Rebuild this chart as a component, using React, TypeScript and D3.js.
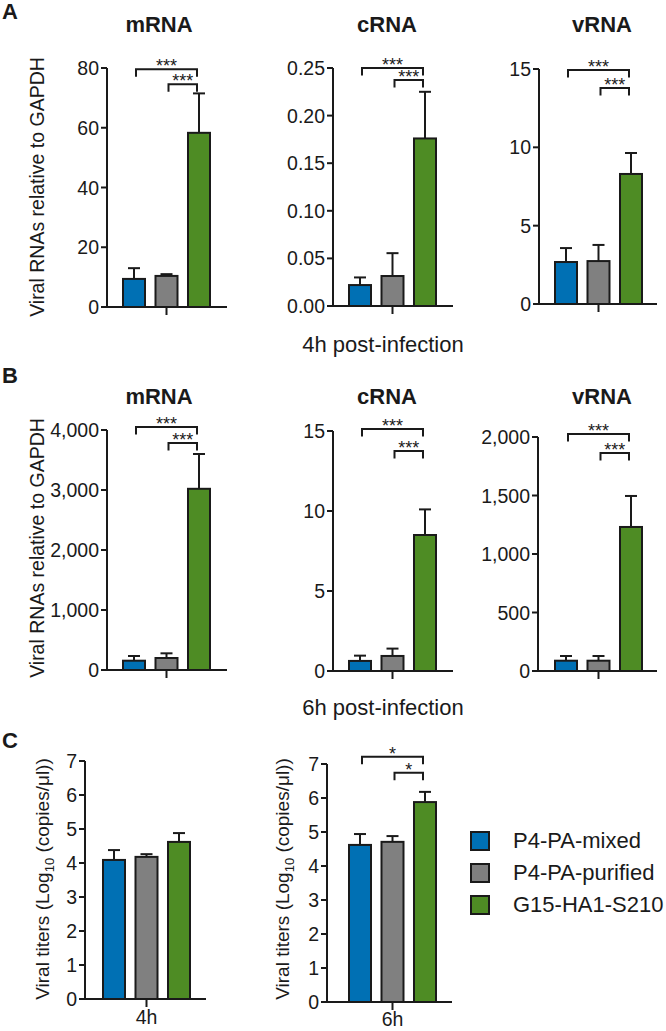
import React from "react";
import * as d3 from "d3";

const groups = ["P4-PA-mixed", "P4-PA-purified", "G15-HA1-S210"];
const groupColors = ["#0070b4", "#808080", "#4e8c24"];

// Panel A – 4h post-infection
const mrna4hMean = [9.4, 10.4, 58.3];
const mrna4hErr = [3.6, 0.6, 13.2];
const crna4hMean = [0.022, 0.0315, 0.176];
const crna4hErr = [0.008, 0.024, 0.049];
const vrna4hMean = [2.68, 2.74, 8.3];
const vrna4hErr = [0.89, 1.03, 1.34];

// Panel B – 6h post-infection
const mrna6hMean = [155, 200, 3020];
const mrna6hErr = [78, 78, 580];
const crna6hMean = [0.63, 0.94, 8.5];
const crna6hErr = [0.33, 0.46, 1.6];
const vrna6hMean = [88, 88, 1231];
const vrna6hErr = [40, 40, 265];

// Panel C – viral titers
const titer4hMean = [4.09, 4.18, 4.62];
const titer4hErr = [0.29, 0.08, 0.26];
const titer6hMean = [4.62, 4.71, 5.88];
const titer6hErr = [0.32, 0.17, 0.3];

const FONT = "'Liberation Sans', Arial, Helvetica, sans-serif";
const INK = "#1a1a1a";

type Bracket = { from: number; to: number; y: number; label: string };
type Panel = {
  title?: string;
  titleX?: number;
  titleY?: number;
  mean: number[];
  err: number[];
  domain: [number, number];
  tickStep: number;
  fmt: (n: number) => string;
  axisX: number;
  y0: number;
  yTop: number;
  barLeft: number;
  xEnd: number;
  brackets: Bracket[];
  xLabel?: string;
  xLabelDy?: number;
};

const fInt = d3.format("d");
const fComma = d3.format(",");
const f2 = d3.format(".2f");

const panels: Panel[] = [
  { title: "mRNA", titleX: 159, titleY: 32, mean: mrna4hMean, err: mrna4hErr, domain: [0, 80], tickStep: 20, fmt: fInt,
    axisX: 107, y0: 307, yTop: 68, barLeft: 123, xEnd: 227,
    brackets: [{ from: 0, to: 2, y: 79.6, label: "***" }, { from: 1, to: 2, y: 74.6, label: "***" }] },
  { title: "cRNA", titleX: 387, titleY: 32, mean: crna4hMean, err: crna4hErr, domain: [0, 0.25], tickStep: 0.05, fmt: f2,
    axisX: 333, y0: 306, yTop: 68, barLeft: 349, xEnd: 453,
    brackets: [{ from: 0, to: 2, y: 0.25, label: "***" }, { from: 1, to: 2, y: 0.2374, label: "***" }] },
  { title: "vRNA", titleX: 602, titleY: 32, mean: vrna4hMean, err: vrna4hErr, domain: [0, 15], tickStep: 5, fmt: fInt,
    axisX: 539, y0: 304, yTop: 69, barLeft: 555, xEnd: 657,
    brackets: [{ from: 0, to: 2, y: 14.93, label: "***" }, { from: 1, to: 2, y: 13.78, label: "***" }] },
  { title: "mRNA", titleX: 159, titleY: 404, mean: mrna6hMean, err: mrna6hErr, domain: [0, 4000], tickStep: 1000, fmt: fComma,
    axisX: 107, y0: 670, yTop: 430, barLeft: 123, xEnd: 227,
    brackets: [{ from: 0, to: 2, y: 4050, label: "***" }, { from: 1, to: 2, y: 3783, label: "***" }] },
  { title: "cRNA", titleX: 387, titleY: 404, mean: crna6hMean, err: crna6hErr, domain: [0, 15], tickStep: 5, fmt: fInt,
    axisX: 333, y0: 671, yTop: 431, barLeft: 349, xEnd: 453,
    brackets: [{ from: 0, to: 2, y: 15.125, label: "***" }, { from: 1, to: 2, y: 13.75, label: "***" }] },
  { title: "vRNA", titleX: 602, titleY: 404, mean: vrna6hMean, err: vrna6hErr, domain: [0, 2000], tickStep: 500, fmt: fComma,
    axisX: 538, y0: 671, yTop: 437, barLeft: 555, xEnd: 657,
    brackets: [{ from: 0, to: 2, y: 2026, label: "***" }, { from: 1, to: 2, y: 1863, label: "***" }] },
  { mean: titer4hMean, err: titer4hErr, domain: [0, 7], tickStep: 1, fmt: fInt,
    axisX: 85, y0: 999, yTop: 761, barLeft: 103, xEnd: 206, brackets: [], xLabel: "4h", xLabelDy: 25 },
  { mean: titer6hMean, err: titer6hErr, domain: [0, 7], tickStep: 1, fmt: fInt,
    axisX: 327, y0: 1002, yTop: 764, barLeft: 349, xEnd: 452,
    brackets: [{ from: 0, to: 2, y: 7.21, label: "*" }, { from: 1, to: 2, y: 6.74, label: "*" }], xLabel: "6h", xLabelDy: 24 },
];

function PanelView({ p }: { p: Panel }) {
  const y = d3.scaleLinear().domain(p.domain).range([p.y0, p.yTop]);
  const x = d3
    .scaleBand<string>()
    .domain(groups)
    .range([p.barLeft, p.barLeft + 87])
    .paddingInner(0.323)
    .paddingOuter(0);
  const bw = x.bandwidth();
  const cx = (i: number) => (x(groups[i]) as number) + bw / 2;
  const ticks = d3.range(p.domain[0], p.domain[1] + p.tickStep / 2, p.tickStep);
  const midX = cx(1);
  return (
    <g>
      {p.title && (
        <text x={p.titleX} y={p.titleY} textAnchor="middle" fontSize={22} fontWeight="bold" fill={INK}>
          {p.title}
        </text>
      )}
      {groups.map((g, i) => {
        const top = y(p.mean[i]);
        const eTop = y(p.mean[i] + p.err[i]);
        const c = cx(i);
        return (
          <g key={g}>
            <line x1={c} x2={c} y1={top} y2={eTop} stroke={INK} strokeWidth={2} />
            <line x1={c - 6} x2={c + 6} y1={eTop} y2={eTop} stroke={INK} strokeWidth={2} />
            <rect x={x(g)} y={top} width={bw} height={p.y0 - top} fill={groupColors[i]} stroke={INK} strokeWidth={2} />
          </g>
        );
      })}
      <line x1={p.axisX} x2={p.axisX} y1={p.y0} y2={p.yTop} stroke={INK} strokeWidth={2} />
      {ticks.map((t) => (
        <g key={t}>
          <line x1={p.axisX - 6} x2={p.axisX} y1={y(t)} y2={y(t)} stroke={INK} strokeWidth={2} />
          <text x={p.axisX - 8} y={y(t) + 7} textAnchor="end" fontSize={19.5} fill={INK}>
            {p.fmt(t)}
          </text>
        </g>
      ))}
      <line x1={p.axisX - 1} x2={p.xEnd} y1={p.y0} y2={p.y0} stroke={INK} strokeWidth={2} />
      <line x1={midX} x2={midX} y1={p.y0} y2={p.y0 + 8} stroke={INK} strokeWidth={2} />
      {p.xLabel && (
        <text x={midX} y={p.y0 + (p.xLabelDy ?? 25)} textAnchor="middle" fontSize={19.5} fill={INK}>
          {p.xLabel}
        </text>
      )}
      {p.brackets.map((b, k) => {
        const by = y(b.y);
        const x1 = cx(b.from) + 2;
        const x2 = cx(b.to) - 2;
        return (
          <g key={k}>
            <path d={`M${x1},${by + 7.5}V${by}H${x2}V${by + 7.5}`} fill="none" stroke={INK} strokeWidth={2} />
            <text x={(x1 + x2) / 2} y={by + 3} textAnchor="middle" fontSize={18} fill={INK}>
              {b.label}
            </text>
          </g>
        );
      })}
    </g>
  );
}

export default function App() {
  return (
    <svg
      width={666}
      height={1031}
      style={{ position: "absolute", left: 0, top: 0, background: "#fff" }}
      fontFamily={FONT}
    >
      <rect width={666} height={1031} fill="#fff" />
      <text x={2} y={19} fontSize={22} fontWeight="bold" fill={INK}>A</text>
      <text x={2} y={383} fontSize={22} fontWeight="bold" fill={INK}>B</text>
      <text x={2} y={748} fontSize={22} fontWeight="bold" fill={INK}>C</text>

      <text transform="translate(44,187) rotate(-90)" textAnchor="middle" fontSize={19.5} fill={INK}>
        Viral RNAs relative to GAPDH
      </text>
      <text transform="translate(44,548) rotate(-90)" textAnchor="middle" fontSize={19.5} fill={INK}>
        Viral RNAs relative to GAPDH
      </text>
      <text transform="translate(49,879) rotate(-90)" textAnchor="middle" fontSize={19} fill={INK}>
        Viral titers (Log<tspan fontSize={13} dy={5}>10</tspan>
        <tspan dy={-5}> (copies/μl))</tspan>
      </text>
      <text transform="translate(289,879) rotate(-90)" textAnchor="middle" fontSize={19} fill={INK}>
        Viral titers (Log<tspan fontSize={13} dy={5}>10</tspan>
        <tspan dy={-5}> (copies/μl))</tspan>
      </text>

      <text x={383} y={352} textAnchor="middle" fontSize={22} fill={INK}>4h post-infection</text>
      <text x={383} y={715} textAnchor="middle" fontSize={22} fill={INK}>6h post-infection</text>

      {panels.map((p, i) => (
        <PanelView key={i} p={p} />
      ))}

      {groups.map((g, i) => (
        <g key={g} transform={`translate(471,${832 + i * 32})`}>
          <rect x={0} y={0} width={18} height={18} fill={groupColors[i]} stroke={INK} strokeWidth={2} />
          <text x={42} y={16} fontSize={22} fill={INK}>{g}</text>
        </g>
      ))}
    </svg>
  );
}
